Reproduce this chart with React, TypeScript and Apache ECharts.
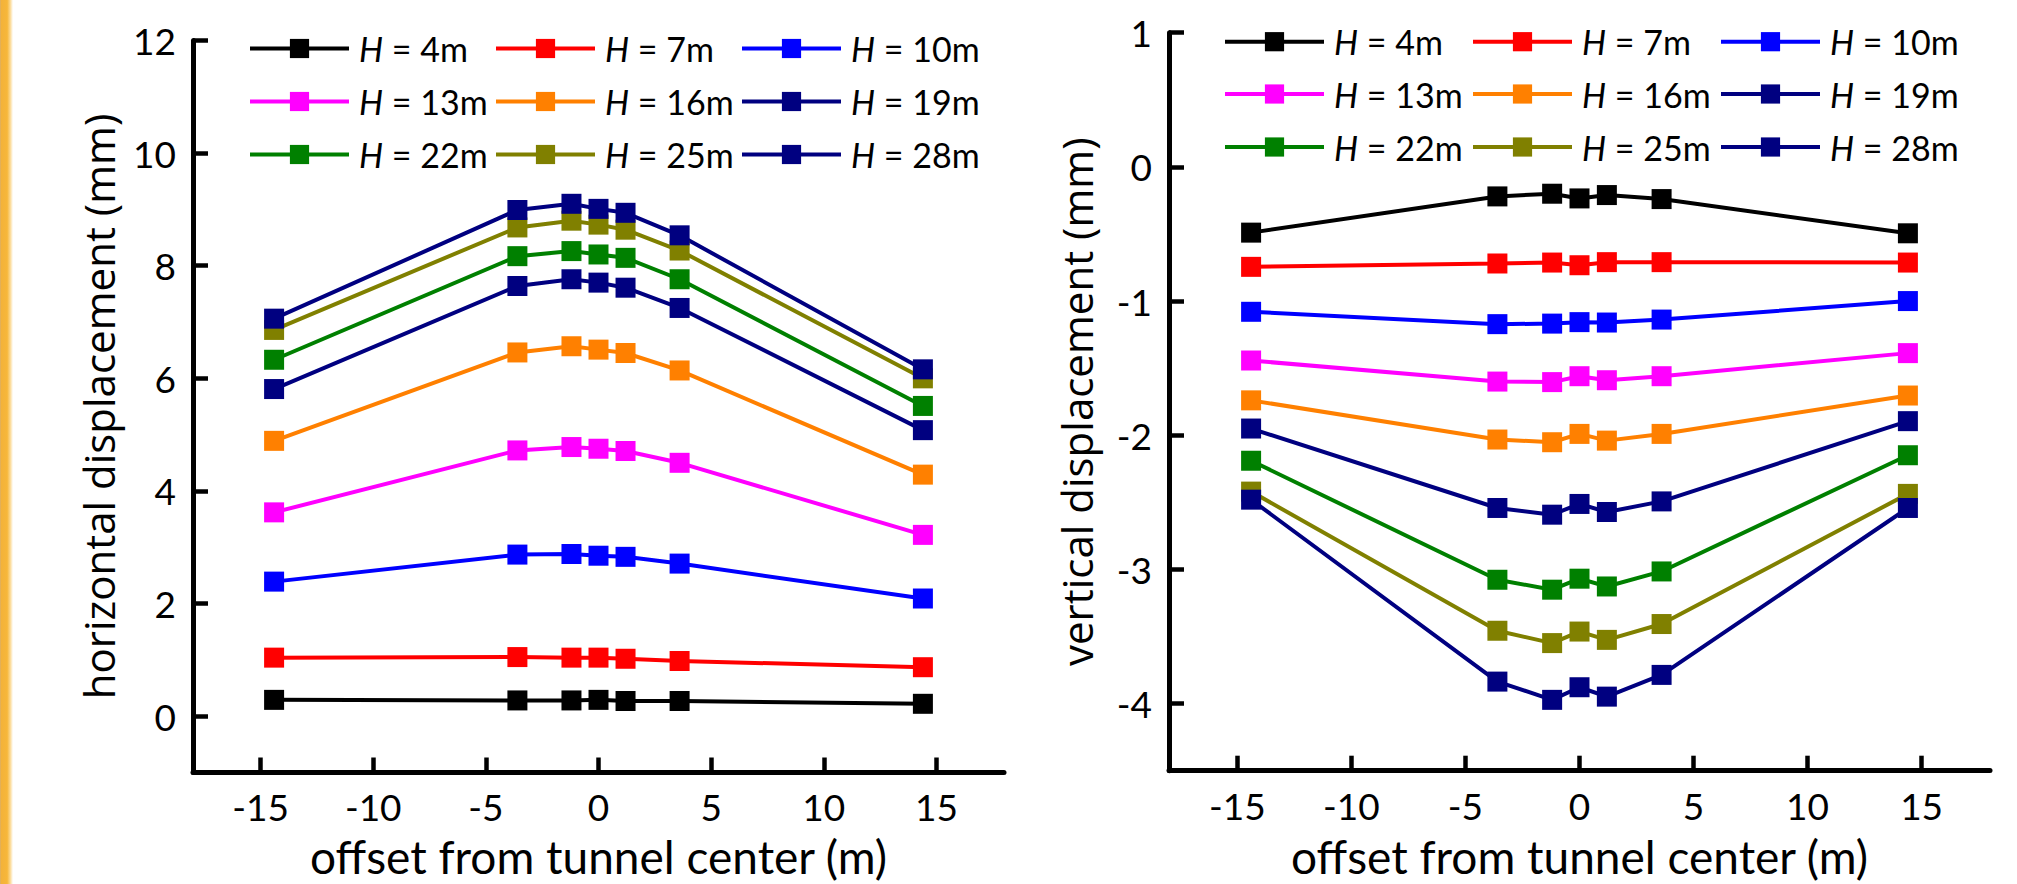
import React, { useEffect, useRef } from "react";
import * as echarts from "echarts";

// ---- data ----
const offsets = [-14.4, -3.6, -1.2, 0, 1.2, 3.6, 14.4];
const depthNames = ["H = 4m", "H = 7m", "H = 10m", "H = 13m", "H = 16m", "H = 19m", "H = 22m", "H = 25m", "H = 28m"];
const depthColors = ["#000000", "#ff0000", "#0000ff", "#ff00ff", "#ff8000", "#000080", "#008000", "#808000", "#000080"];

// horizontal displacement (mm)
const horizH4 = [0.29, 0.28, 0.28, 0.29, 0.27, 0.27, 0.22];
const horizH7 = [1.04, 1.05, 1.04, 1.04, 1.02, 0.98, 0.87];
const horizH10 = [2.39, 2.87, 2.88, 2.85, 2.83, 2.71, 2.09];
const horizH13 = [3.62, 4.72, 4.78, 4.75, 4.71, 4.5, 3.22];
const horizH16 = [4.89, 6.46, 6.57, 6.51, 6.45, 6.14, 4.29];
const horizH19 = [5.81, 7.64, 7.76, 7.7, 7.61, 7.25, 5.08];
const horizH22 = [6.33, 8.17, 8.26, 8.2, 8.14, 7.76, 5.51];
const horizH25 = [6.86, 8.68, 8.8, 8.73, 8.64, 8.27, 6.0];
const horizH28 = [7.06, 8.99, 9.1, 9.01, 8.94, 8.54, 6.16];

// vertical displacement (mm)
const vertH4 = [-0.49, -0.22, -0.2, -0.235, -0.21, -0.24, -0.495];
const vertH7 = [-0.745, -0.72, -0.713, -0.733, -0.71, -0.71, -0.713];
const vertH10 = [-1.08, -1.172, -1.168, -1.157, -1.16, -1.138, -1.0];
const vertH13 = [-1.443, -1.6, -1.604, -1.56, -1.59, -1.56, -1.388];
const vertH16 = [-1.74, -2.032, -2.052, -1.99, -2.04, -1.99, -1.704];
const vertH19 = [-1.95, -2.542, -2.592, -2.512, -2.572, -2.493, -1.895];
const vertH22 = [-2.19, -3.077, -3.151, -3.069, -3.127, -3.015, -2.149];
const vertH25 = [-2.42, -3.457, -3.549, -3.463, -3.525, -3.407, -2.437];
const vertH28 = [-2.48, -3.836, -3.972, -3.878, -3.948, -3.786, -2.542];

const horizSets = [horizH4, horizH7, horizH10, horizH13, horizH16, horizH19, horizH22, horizH25, horizH28];
const vertSets = [vertH4, vertH7, vertH10, vertH13, vertH16, vertH19, vertH22, vertH25, vertH28];

const xTickValues = [-15, -10, -5, 0, 5, 10, 15];
const leftYTicks = [0, 2, 4, 6, 8, 10, 12];
const rightYTicks = [-4, -3, -2, -1, 0, 1];

const xTitle = "offset from tunnel center (m)";
const leftYTitle = "horizontal displacement (mm)";
const rightYTitle = "vertical displacement (mm)";

// ---- layout ----
const legendCols = [
  [248, 494, 740],
  [1223, 1471, 1719],
];
const legendRows = [
  [48.5, 101.5, 154.5],
  [41.7, 94, 147],
];

const LABEL_FONT = "Lato, 'Open Sans', sans-serif";
const TITLE_FONT = "'Open Sans', 'DejaVu Sans', sans-serif";

function makeXAxis(gridIndex: number, nameGap: number, margin: number) {
  return {
    type: "value",
    gridIndex,
    min: -18,
    max: 18,
    name: xTitle,
    nameLocation: "middle",
    nameGap,
    nameTextStyle: { fontFamily: LABEL_FONT, fontSize: 46, color: "#000" },
    axisLine: { onZero: false, lineStyle: { color: "#000", width: 5 } },
    axisTick: { inside: true, length: 15, customValues: xTickValues, lineStyle: { color: "#000", width: 4.5 } },
    axisLabel: { customValues: xTickValues, margin, fontFamily: LABEL_FONT, fontSize: 37, color: "#000" },
    splitLine: { show: false },
  };
}

function makeYAxis(gridIndex: number, min: number, max: number, ticks: number[], name: string, nameGap: number) {
  return {
    type: "value",
    gridIndex,
    min,
    max,
    name,
    nameLocation: "middle",
    nameGap,
    nameTextStyle: { fontFamily: TITLE_FONT, fontSize: 42, color: "#000" },
    axisLine: { show: true, onZero: false, lineStyle: { color: "#000", width: 5 } },
    axisTick: { show: true, inside: true, length: 15, customValues: ticks, lineStyle: { color: "#000", width: 4.5 } },
    axisLabel: { customValues: ticks, margin: 17, fontFamily: LABEL_FONT, fontSize: 37, color: "#000" },
    splitLine: { show: false },
  };
}

function buildOption() {
  const series: any[] = [];
  [horizSets, vertSets].forEach((sets, c) => {
    sets.forEach((vals, i) => {
      series.push({
        type: "line",
        name: depthNames[i],
        xAxisIndex: c,
        yAxisIndex: c,
        data: offsets.map((x, j) => [x, vals[j]]),
        symbol: "rect",
        symbolSize: 20,
        color: depthColors[i],
        itemStyle: { color: depthColors[i] },
        lineStyle: { width: 4, color: depthColors[i] },
        emphasis: { disabled: true },
      });
    });
  });

  const legends: any[] = [];
  for (let c = 0; c < 2; c++) {
    depthNames.forEach((name, i) => {
      const row = Math.floor(i / 3);
      const col = i % 3;
      legends.push({
        data: [name],
        left: legendCols[c][col],
        top: legendRows[c][row] - 17,
        orient: "horizontal",
        padding: 0,
        itemWidth: 99,
        itemHeight: 24,
        selectedMode: false,
        lineStyle: { width: 4 },
        formatter: (n: string) => "{i|H}{r|" + n.slice(1) + "}",
        textStyle: {
          fontFamily: LABEL_FONT,
          fontSize: 34,
          lineHeight: 34,
          color: "#000",
          padding: [0, 0, 0, 5],
          rich: {
            i: { fontFamily: LABEL_FONT, fontSize: 34, lineHeight: 34, fontStyle: "italic", color: "#000" },
            r: { fontFamily: LABEL_FONT, fontSize: 34, lineHeight: 34, color: "#000" },
          },
        },
      });
    });
  }

  return {
    animation: false,
    backgroundColor: "#ffffff",
    graphic: [
      {
        type: "rect",
        silent: true,
        shape: { x: 0, y: 0, width: 13, height: 884 },
        style: {
          fill: new echarts.graphic.LinearGradient(0, 0, 1, 0, [
            { offset: 0, color: "#d9ae6a" },
            { offset: 0.1, color: "#f3b23a" },
            { offset: 0.55, color: "#f7b73a" },
            { offset: 0.78, color: "#fbd890" },
            { offset: 1, color: "#ffffff" },
          ]),
        },
      },
    ],
    grid: [
      { left: 193, top: 40.5, width: 811, height: 732, outerBoundsMode: "none", containLabel: false },
      { left: 1169, top: 32.7, width: 821, height: 738, outerBoundsMode: "none", containLabel: false },
    ],
    xAxis: [makeXAxis(0, 61, 15), makeXAxis(1, 63, 16.5)],
    yAxis: [
      makeYAxis(0, -1, 12, leftYTicks, leftYTitle, 74),
      makeYAxis(1, -4.5, 1, rightYTicks, rightYTitle, 72),
    ],
    legend: legends,
    series,
  };
}

export default function App() {
  const ref = useRef<HTMLDivElement>(null);
  useEffect(() => {
    if (!ref.current) return;
    const chart = echarts.init(ref.current, undefined, { renderer: "svg" });
    chart.setOption(buildOption() as any);
    return () => chart.dispose();
  }, []);
  return (
    <div
      ref={ref}
      style={{ position: "fixed", left: 0, top: 0, width: 2017, height: 884, background: "#fff" }}
    />
  );
}
